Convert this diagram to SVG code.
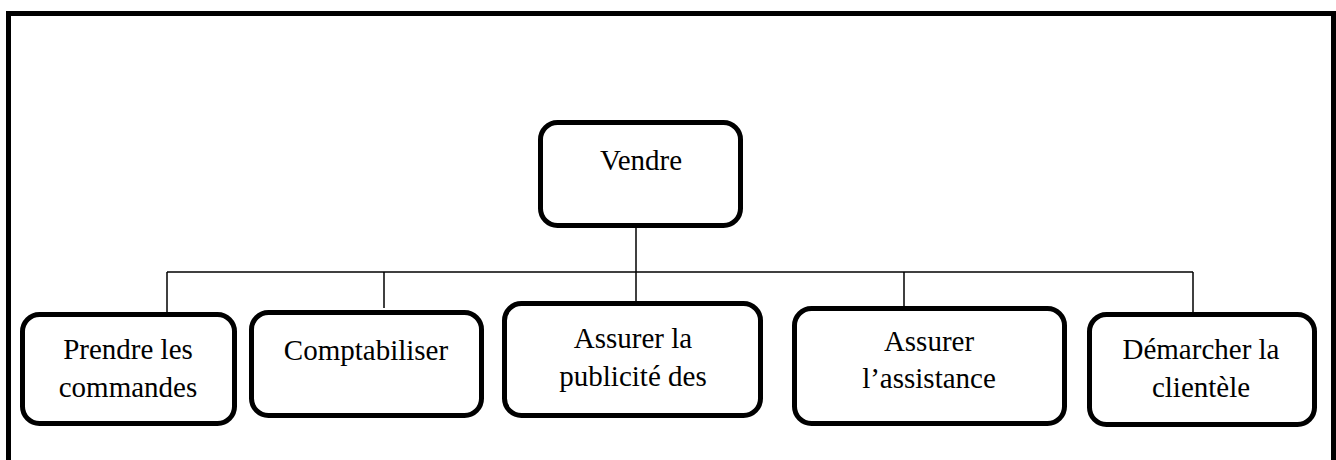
<svg xmlns="http://www.w3.org/2000/svg" width="1336" height="460" viewBox="0 0 1336 460">
  <style>
    .frame { fill: none; stroke: #000; stroke-width: 5; }
    .box { fill: #fff; stroke: #000; stroke-width: 5; }
    .link { fill: none; stroke: #000; stroke-width: 1.5; }
    .label { font-size: 29px; fill: #000; text-anchor: middle; }
  </style>
  <rect width="1336" height="460" fill="#fff"/>
  <!-- page border -->
  <rect class="frame" x="8.5" y="13.5" width="1325" height="470"/>

  <!-- tree connectors -->
  <g id="connectors">
    <line class="link" x1="636" y1="228" x2="636" y2="302"/>
    <line class="link" x1="167" y1="272" x2="1193" y2="272"/>
    <line class="link" x1="167" y1="272" x2="167" y2="313"/>
    <line class="link" x1="384" y1="272" x2="384" y2="308"/>
    <line class="link" x1="904" y1="272" x2="904" y2="307"/>
    <line class="link" x1="1193" y1="272" x2="1193" y2="313"/>
  </g>

  <g font-family="'Liberation Serif', serif">
    <g id="vendre">
      <rect class="box" x="540.5" y="122.5" width="200" height="103" rx="17"/>
      <text class="label" x="641" y="170">Vendre</text>
    </g>

    <g id="prendre-commandes">
      <rect class="box" x="22.5" y="314.5" width="212" height="109" rx="17"/>
      <text class="label" x="128" y="359">Prendre les</text>
      <text class="label" x="128" y="397">commandes</text>
    </g>

    <g id="comptabiliser">
      <rect class="box" x="251.5" y="312.5" width="230" height="103" rx="17"/>
      <text class="label" x="366" y="360">Comptabiliser</text>
    </g>

    <g id="publicite">
      <rect class="box" x="504.5" y="303.5" width="256" height="112" rx="17"/>
      <text class="label" x="633" y="348">Assurer la</text>
      <text class="label" x="633" y="386">publicité des</text>
    </g>

    <g id="assistance">
      <rect class="box" x="794.5" y="308.5" width="270" height="115" rx="17"/>
      <text class="label" x="929" y="351">Assurer</text>
      <text class="label" x="929" y="388">l’assistance</text>
    </g>

    <g id="demarcher">
      <rect class="box" x="1089.5" y="314.5" width="225" height="110" rx="17"/>
      <text class="label" x="1201" y="359">Démarcher la</text>
      <text class="label" x="1201" y="397">clientèle</text>
    </g>
  </g>
</svg>
